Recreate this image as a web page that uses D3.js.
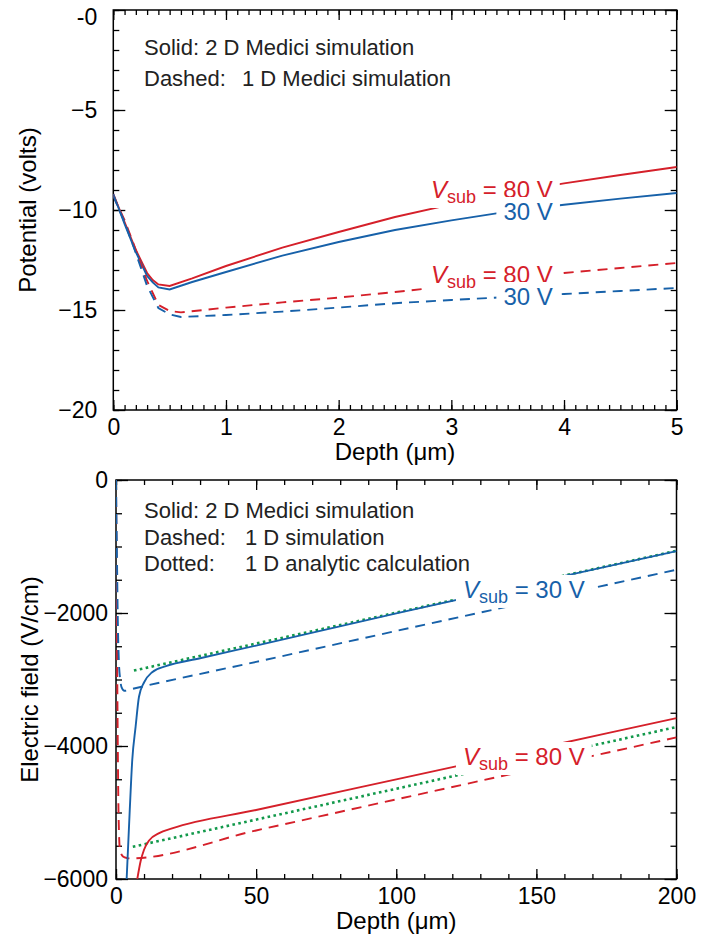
<!DOCTYPE html>
<html>
<head>
<meta charset="utf-8">
<script src="https://cdn.jsdelivr.net/npm/d3@7"></script>
<style>
  body { margin: 0; background: #fff; }
  text { font-family: "Liberation Sans", Arial, Helvetica, sans-serif; }
</style>
</head>
<body>
<svg id="chart" width="728" height="941"></svg>
<script>
// ---- top panel: potential vs depth (um) ----
var depthTop2D = [0, 0.1, 0.2, 0.3, 0.35, 0.4, 0.5, 0.7, 1, 1.5, 2, 2.5, 3, 3.5, 4, 4.5, 5];
var pot2D80 = [-9.2, -10.6, -12.0, -13.15, -13.5, -13.72, -13.8, -13.42, -12.8, -11.88, -11.1, -10.35, -9.72, -9.15, -8.67, -8.25, -7.85];
var pot2D30 = [-9.2, -10.7, -12.1, -13.3, -13.62, -13.87, -13.97, -13.6, -13.1, -12.28, -11.6, -11.0, -10.52, -10.08, -9.74, -9.43, -9.15];
var depthTop1D = [0, 0.1, 0.2, 0.3, 0.4, 0.5, 0.6, 1, 1.5, 2, 2.5, 3, 3.5, 4, 4.5, 5];
var pot1D80 = [-9.3, -10.5, -12.0, -13.55, -14.75, -15.05, -15.12, -14.88, -14.62, -14.38, -14.1, -13.8, -13.48, -13.15, -12.9, -12.65];
var pot1D30 = [-9.3, -10.6, -12.15, -13.8, -14.9, -15.22, -15.35, -15.25, -15.08, -14.88, -14.66, -14.5, -14.35, -14.2, -14.05, -13.9];
var xTicksTop = [0, 1, 2, 3, 4, 5];
var xTickLabelsTop = ["0", "1", "2", "3", "4", "5"];
var yTicksTop = [0, -5, -10, -15, -20];
var yTickLabelsTop = ["-0", "\u22125", "\u221210", "\u221215", "\u221220"];

// ---- bottom panel: electric field vs depth (um) ----
var depthB2D30 = [3.8, 4.9, 5.8, 7, 8.2, 10, 12.9, 17.8, 30, 50, 100, 150, 200];
var field2D30 = [-6000, -4970, -4210, -3710, -3260, -3045, -2890, -2800, -2680, -2490, -2005, -1535, -1070];
var depthB2D80 = [7.6, 8.8, 10, 11.8, 15.4, 20, 50, 100, 150, 200];
var field2D80 = [-6000, -5730, -5560, -5420, -5310, -5240, -4963, -4502, -4041, -3580];
var depthB1D30 = [0, 0.3, 0.6, 1, 1.5, 2, 3, 5, 50, 100, 150, 200];
var field1D30 = [0, -1000, -2000, -2700, -3000, -3120, -3170, -3150, -2735, -2270, -1810, -1350];
var depthB1D80 = [0, 0.3, 0.6, 0.9, 1.4, 2.5, 4, 5, 50, 100, 150, 200];
var field1D80 = [0, -2000, -3800, -5000, -5560, -5660, -5685, -5690, -5270, -4803, -4337, -3870];
var depthBAn = [6.4, 200];
var fieldAn30 = [-2865, -1065];
var depthBAn80 = [6, 200];
var fieldAn80 = [-5515, -3715];
var xTicksBot = [0, 50, 100, 150, 200];
var xTickLabelsBot = ["0", "50", "100", "150", "200"];
var yTicksBot = [0, -2000, -4000, -6000];
var yTickLabelsBot = ["0", "\u22122000", "\u22124000", "\u22126000"];

var red = "#d5202a", blue = "#1761a9", green = "#12994b";
var svg = d3.select("#chart");

function panel(o) {
  var g = svg.append("g");
  var x = d3.scaleLinear().domain(o.xDom).range([o.left, o.right]);
  var y = d3.scaleLinear().domain(o.yDom).range([o.bottom, o.top]);
  var clip = "clip" + o.name;
  svg.append("clipPath").attr("id", clip).append("rect")
    .attr("x", o.left).attr("y", o.top)
    .attr("width", o.right - o.left).attr("height", o.bottom - o.top);

  function put(axis, tx, ty) {
    var a = g.append("g").attr("transform", "translate(" + tx + "," + ty + ")").call(axis);
    a.select(".domain").remove();
    a.attr("font-size", 23).attr("font-family", null);
    a.selectAll("line").attr("stroke", "#000").attr("stroke-width", 1.3);
    return a;
  }
  // left
  put(d3.axisLeft(y).tickValues(o.yMinor).tickSize(-6).tickFormat(""), o.left, 0);
  var yl = put(d3.axisLeft(y).tickValues(o.yTicks).tickSize(-12).tickPadding(o.yPad)
    .tickFormat(function(d, i) { return o.yLabels[i]; }), o.left, 0)
    .selectAll("text").attr("fill", "#000");
  // top label sits a bit lower so it stays inside the page
  yl.filter(function(d) { return d == o.yDom[1]; }).attr("dy", o.topLabelDy);
  // right
  put(d3.axisRight(y).tickValues(o.yMinor).tickSize(-6).tickFormat(""), o.right, 0);
  put(d3.axisRight(y).tickValues(o.yTicks).tickSize(-12).tickFormat(""), o.right, 0);
  // bottom
  put(d3.axisBottom(x).tickValues(o.xMinor).tickSize(-5).tickFormat(""), 0, o.bottom);
  put(d3.axisBottom(x).tickValues(o.xTicks).tickSize(-10)
    .tickFormat(function(d, i) { return o.xLabels[i]; }), 0, o.bottom)
    .selectAll("text").attr("fill", "#000").attr("y", 25).attr("dy", null);
  // top
  put(d3.axisTop(x).tickValues(o.xMinor).tickSize(-5).tickFormat(""), 0, o.top);
  put(d3.axisTop(x).tickValues(o.xTicks).tickSize(-10).tickFormat(""), 0, o.top);

  g.append("rect").attr("x", o.left).attr("y", o.top)
    .attr("width", o.right - o.left).attr("height", o.bottom - o.top)
    .attr("fill", "none").attr("stroke", "#000").attr("stroke-width", 1.5);

  g.append("text").attr("x", (o.left + o.right) / 2).attr("y", o.bottom + 50)
    .attr("text-anchor", "middle").attr("font-size", 24).text(o.xTitle);
  g.append("text")
    .attr("transform", "translate(" + o.titleX + "," + (o.top + o.bottom) / 2 + ") rotate(-90)")
    .attr("text-anchor", "middle").attr("font-size", 24).text(o.yTitle);

  return { x: x, y: y, g: g, clip: clip };
}

function curve(p, xs, ys, color, kind, smooth) {
  var line = d3.line()
    .x(function(d, i) { return p.x(xs[i]); })
    .y(function(d, i) { return p.y(ys[i]); })
    .curve(smooth ? d3.curveMonotoneX : d3.curveLinear);
  var path = p.g.append("path").attr("d", line(xs))
    .attr("clip-path", "url(#" + p.clip + ")")
    .attr("fill", "none").attr("stroke", color).attr("stroke-width", 1.9);
  if (kind == "dash") path.attr("stroke-dasharray", "10,7");
  if (kind == "dot") path.attr("stroke-dasharray", "2.6,3.4").attr("stroke-width", 2.6);
}

// label with white box that blanks the lines behind it
function label(p, dx, dy, anchor, volts, color, withSub) {
  var lg = p.g.append("g");
  var t = lg.append("text").attr("x", p.x(dx)).attr("y", p.y(dy))
    .attr("text-anchor", anchor).attr("font-size", 24).attr("fill", color);
  if (withSub) {
    t.append("tspan").attr("font-style", "italic").text("V");
    t.append("tspan").attr("font-size", 18).attr("dy", 5).text("sub");
    t.append("tspan").attr("dy", -5).text(" = " + volts + " V");
  } else {
    t.text(volts + " V");
  }
  var b = t.node().getBBox();
  lg.insert("rect", "text").attr("x", b.x - 7).attr("y", b.y - 1)
    .attr("width", b.width + 14).attr("height", b.height + 2).attr("fill", "#fff");
}

function notes(p, lines, x0, x1, y0, step) {
  lines.forEach(function(l, i) {
    var t = p.g.append("text").attr("y", y0 + i * step).attr("font-size", 22).attr("fill", "#222");
    t.append("tspan").attr("x", x0).text(l[0]);
    if (l[1]) t.append("tspan").attr("x", x1).text(l[1]);
  });
}

// ---- top ----
var top1 = panel({
  name: "a", left: 113.3, right: 676.7, top: 10, bottom: 410,
  xDom: [0, 5], yDom: [-20, 0],
  xTicks: xTicksTop, xLabels: xTickLabelsTop, xMinor: d3.range(0, 5.01, 0.1),
  yTicks: yTicksTop, yLabels: yTickLabelsTop, yMinor: d3.range(-20, 0.01, 1), yPad: 16,
  topLabelDy: "0.62em",
  xTitle: "Depth (\u03bcm)", yTitle: "Potential (volts)", titleX: 36
});
curve(top1, depthTop2D, pot2D80, red, "solid", false);
curve(top1, depthTop2D, pot2D30, blue, "solid", false);
curve(top1, depthTop1D, pot1D80, red, "dash", false);
curve(top1, depthTop1D, pot1D30, blue, "dash", false);
label(top1, 3.9, -9.4, "end", 80, red, true);
label(top1, 3.9, -10.5, "end", 30, blue, false);
label(top1, 3.9, -13.65, "end", 80, red, true);
label(top1, 3.9, -14.75, "end", 30, blue, false);
notes(top1, [["Solid: 2 D Medici simulation"], ["Dashed:", "1 D Medici simulation"]], 144, 242, 55, 31);

// ---- bottom ----
var bot = panel({
  name: "b", left: 116, right: 676.5, top: 480, bottom: 879,
  xDom: [0, 200], yDom: [-6000, 0],
  xTicks: xTicksBot, xLabels: xTickLabelsBot, xMinor: d3.range(0, 200.1, 10),
  yTicks: yTicksBot, yLabels: yTickLabelsBot, yMinor: d3.range(-6000, 1, 500), yPad: 8,
  topLabelDy: "0.32em",
  xTitle: "Depth (\u03bcm)", yTitle: "Electric field (V/cm)", titleX: 38
});
curve(bot, depthB1D80, field1D80, red, "dash", true);
curve(bot, depthB1D30, field1D30, blue, "dash", true);
curve(bot, depthBAn, fieldAn30, green, "dot", false);
curve(bot, depthBAn80, fieldAn80, green, "dot", false);
curve(bot, depthB2D30, field2D30, blue, "solid", true);
curve(bot, depthB2D80, field2D80, red, "solid", true);
label(bot, 123.8, -1774, "start", 30, blue, true);
label(bot, 123.8, -4286, "start", 80, red, true);
notes(bot, [["Solid: 2 D Medici simulation"], ["Dashed:", "1 D simulation"], ["Dotted:", "1 D analytic calculation"]], 144, 245, 518, 26.5);
</script>
</body>
</html>
